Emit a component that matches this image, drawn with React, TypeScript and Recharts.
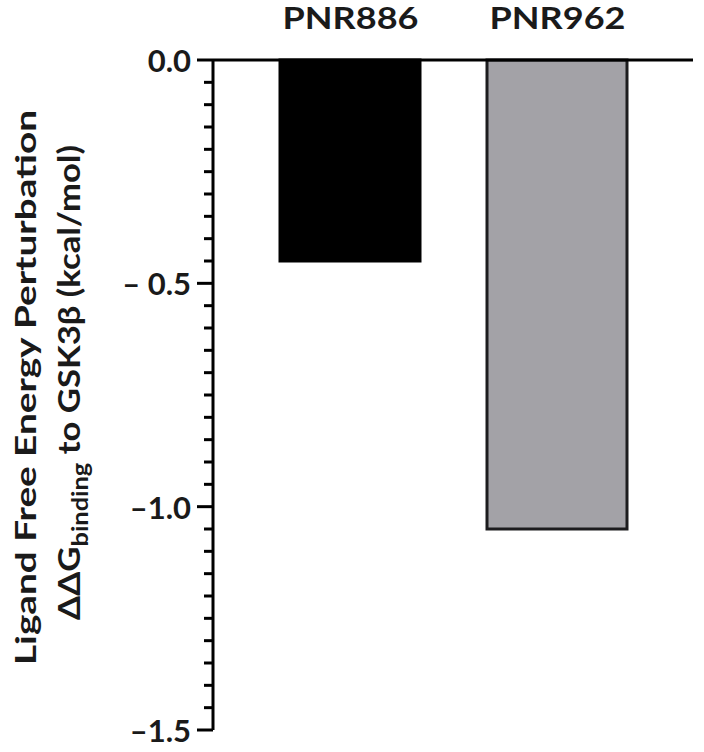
import { BarChart, Bar, XAxis, YAxis, Cell } from 'recharts'

const categories = ['PNR886', 'PNR962']
const ddgBinding = [-0.45, -1.05]
const barFills = ['#000000', '#a3a2a7']
const barStrokes = ['#000000', '#1c1c1e']
const majorTicks = [0, -0.5, -1.0, -1.5]
const majorLabels = ['0.0', '\u2013 0.5', '\u20131.0', '\u20131.5']
const minorStep = 0.05

const data = categories.map((name, i) => ({ name, value: ddgBinding[i] }))
const allTicks = Array.from({ length: 31 }, (_, i) => -Math.round(i * minorStep * 100) / 100)

const FONT = 'Lato, "Open Sans", sans-serif'

const YTick = (props: any) => {
  const { x, y, payload } = props
  const idx = majorTicks.findIndex((m) => Math.abs(m - payload.value) < 1e-6)
  const major = idx >= 0
  return (
    <g>
      <line x1={x - (major ? 16 : 9)} x2={x} y1={y} y2={y} stroke="#000" strokeWidth={3} />
      {major && (
        <text
          x={x - 22}
          y={y}
          textAnchor="end"
          dominantBaseline="central"
          fontFamily={FONT}
          fontWeight={700}
          fontSize={31}
          fill="#1a1a1a"
        >
          {majorLabels[idx]}
        </text>
      )}
    </g>
  )
}

// category names sit above the zero line
const XTick = (props: any) => {
  const { x, y, payload } = props
  return (
    <text
      x={x - 67}
      y={y - 23}
      textAnchor="start"
      fontFamily={FONT}
      fontWeight={700}
      fontSize={30}
      textLength={136}
      lengthAdjust="spacingAndGlyphs"
      fill="#1a1a1a"
    >
      {payload.value}
    </text>
  )
}

const YLabel = () => (
  <g fontFamily={FONT} fontWeight={700} fill="#1a1a1a">
    <text
      transform="translate(36, 665) rotate(-90)"
      textAnchor="start"
      fontSize={29}
      textLength={555}
      lengthAdjust="spacingAndGlyphs"
    >
      Ligand Free Energy Perturbation
    </text>
    <text
      transform="translate(80, 620) rotate(-90)"
      textAnchor="start"
      fontSize={30}
      textLength={475}
      lengthAdjust="spacingAndGlyphs"
    >
      ΔΔG
      <tspan fontSize={22} dy={8}>binding</tspan>
      <tspan dy={-8}> to GSK3β (kcal/mol)</tspan>
    </text>
  </g>
)

export default function App() {
  return (
    <div style={{ position: 'absolute', left: 0, top: 0, background: '#fff' }}>
      <BarChart
        width={704}
        height={752}
        data={data}
        margin={{ top: 0, right: 11, bottom: 22, left: 0 }}
        barSize={140}
      >
        <XAxis
          dataKey="name"
          orientation="top"
          height={60}
          padding={{ left: 33, right: 33 }}
          axisLine={{ stroke: '#000', strokeWidth: 3 }}
          tickLine={false}
          tick={<XTick />}
          interval={0}
        />
        <YAxis
          domain={[-1.5, 0]}
          ticks={allTicks}
          interval={0}
          width={213}
          tickSize={0}
          tickMargin={0}
          tickLine={false}
          axisLine={{ stroke: '#000', strokeWidth: 3 }}
          tick={<YTick />}
          label={<YLabel />}
        />
        <Bar dataKey="value" isAnimationActive={false} strokeWidth={3}>
          {data.map((d, i) => (
            <Cell key={d.name} fill={barFills[i]} stroke={barStrokes[i]} />
          ))}
        </Bar>
      </BarChart>
    </div>
  )
}
